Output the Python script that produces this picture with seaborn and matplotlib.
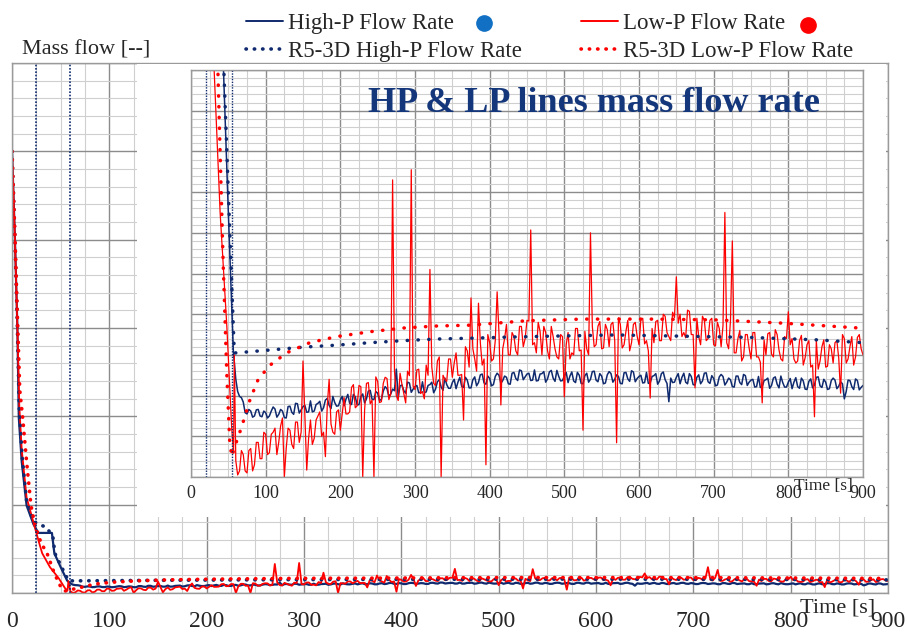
import matplotlib
matplotlib.use("Agg")
import numpy as np
import pandas as pd
import matplotlib.pyplot as plt
from matplotlib.ticker import MultipleLocator
from matplotlib.patches import Rectangle
from matplotlib.lines import Line2D
import seaborn as sns

sns.set_style("white")
plt.rcParams['font.family'] = ['Liberation Serif', 'DejaVu Serif']

NAVY = "#0f2a6e"
RED = "#ff0000"

# ---- data (mass flow in arbitrary units, inset scale 0-10) ----
# start-up transient of each series
hp_start_t = [0, 3, 5.5, 7, 10, 15, 22, 27, 41, 43.5, 50, 56.7]
hp_start_v = [111, 89, 67, 44, 33, 22, 17.3, 15.1, 15.1, 10, 6.5, 3.1]

lp_start_t = [0, 3, 5.5, 7.5, 10, 15, 22, 28, 31, 39, 48, 54.5, 57, 58]
lp_start_v = [111, 89, 67, 47, 36, 24, 17.8, 12.5, 10, 6.5, 3.7, 1.2, 0.6, 3.0]

# measured signals after the transient, every 5 s from 60 s to 900 s
hp_noisy_v = [
    2.40, 1.98, 1.84, 1.55, 1.62, 1.50, 1.66, 1.48, 1.58, 1.50,
    1.72, 1.47, 1.66, 1.46, 1.73, 1.59, 1.81, 1.57, 1.73, 1.59,
    1.87, 1.62, 1.81, 1.62, 1.89, 1.76, 1.98, 1.74, 1.89, 1.75,
    2.03, 1.78, 1.97, 1.78, 2.04, 1.92, 2.13, 1.90, 2.06, 1.91,
    2.22, 1.98, 2.16, 2.65, 2.24, 2.12, 2.33, 2.08, 2.22, 2.07,
    2.34, 2.09, 2.27, 2.07, 2.34, 2.21, 2.43, 2.18, 2.32, 2.17,
    2.45, 2.20, 2.38, 2.19, 2.46, 2.32, 2.53, 2.28, 2.42, 2.27,
    2.55, 2.30, 2.48, 2.29, 2.55, 2.42, 2.63, 2.39, 2.53, 2.37,
    2.63, 2.37, 2.54, 2.33, 2.58, 2.43, 2.62, 2.36, 2.48, 2.32,
    2.58, 2.32, 2.50, 2.29, 2.55, 2.40, 2.60, 2.34, 2.48, 2.31,
    2.59, 2.33, 2.51, 2.30, 2.56, 2.41, 2.61, 2.34, 2.47, 2.31,
    2.57, 2.31, 2.49, 2.28, 2.54, 2.39, 1.85, 2.32, 2.45, 2.29,
    2.55, 2.29, 2.47, 2.26, 2.51, 2.36, 2.56, 2.30, 2.42, 2.26,
    2.52, 2.26, 2.43, 2.22, 2.48, 2.32, 2.52, 2.25, 2.38, 2.21,
    2.47, 2.21, 2.39, 2.18, 2.43, 2.28, 2.48, 2.21, 2.33, 2.17,
    2.44, 2.18, 2.36, 2.15, 2.41, 2.26, 2.46, 2.20, 2.33, 2.17,
    2.43, 2.17, 2.34, 1.92, 2.38, 2.22, 2.41, 2.14, 2.25,
]
lp_noisy_v = [
    0.40, 0.15, 0.55, 0.10, 0.70, 0.30, 0.85, 0.45, 1.05, 0.60,
    1.10, 0.55, 1.25, 0.00, 1.20, 0.80, 1.35, 0.85, 2.85, 0.17,
    1.40, 0.95, 1.50, 1.00, 0.50, 2.40, 1.10, 1.60, 1.15, 1.95,
    1.55, 2.20, 1.70, 2.25, 0.00, 2.30, 1.80, 0.00, 2.35, 1.85,
    2.45, 1.90, 7.30, 2.00, 2.55, 2.05, 2.60, 7.55, 2.15, 2.65,
    2.10, 2.75, 5.10, 2.30, 2.85, 0.00, 2.40, 2.90, 2.45, 3.05,
    2.50, 1.40, 3.10, 4.40, 2.90, 4.27, 2.75, 0.30, 3.30, 2.90,
    4.55, 1.77, 3.40, 3.00, 3.55, 3.10, 3.70, 3.20, 3.85, 6.07,
    3.30, 3.80, 3.00, 3.55, 2.90, 3.45, 2.95, 3.50, 1.97, 3.55,
    3.05, 3.65, 3.10, 1.15, 3.15, 6.00, 3.20, 3.70, 3.15, 3.75,
    3.20, 3.80, 0.84, 3.75, 3.25, 3.85, 3.30, 3.80, 3.25, 3.90,
    3.35, 1.94, 3.30, 3.85, 3.35, 3.95, 3.45, 4.05, 4.92, 4.00,
    3.55, 4.10, 3.50, 2.19, 3.45, 3.95, 3.35, 3.85, 3.25, 3.80,
    3.20, 6.50, 3.15, 5.80, 3.05, 3.60, 2.95, 3.50, 2.90, 3.55,
    2.95, 1.82, 3.00, 3.55, 2.95, 3.50, 2.90, 3.45, 4.06, 3.40,
    2.80, 3.35, 2.75, 3.25, 2.70, 1.48, 2.65, 3.20, 2.70, 3.25,
    2.80, 3.35, 2.06, 3.40, 2.90, 3.45, 2.95, 3.50, 3.00,
]
noisy_t = list(range(60, 901, 5))

# in-between samples, every 5 s from 62.5 s to 897.5 s
hp_mid_v = [
    2.10, 1.95, 1.58, 1.66, 1.47, 1.65, 1.50, 1.62, 1.45, 1.62,
    1.67, 1.54, 1.62, 1.45, 1.74, 1.54, 1.80, 1.65, 1.76, 1.60,
    1.60, 1.78, 1.86, 1.70, 1.93, 1.68, 1.83, 1.75, 1.98, 1.91,
    1.81, 2.03, 1.77, 1.98, 1.82, 2.11, 1.91, 2.10, 1.88, 2.11,
    2.17, 2.04, 2.12, 1.96, 2.26, 2.06, 2.31, 2.16, 2.25, 2.08,
    2.07, 2.25, 2.33, 2.16, 2.39, 2.13, 2.27, 2.18, 2.40, 2.33,
    2.23, 2.45, 2.19, 2.39, 2.24, 2.51, 2.31, 2.48, 2.24, 2.47,
    2.50, 2.37, 2.45, 2.28, 2.57, 2.37, 2.61, 2.46, 2.55, 2.38,
    2.36, 2.53, 2.59, 2.41, 2.62, 2.35, 2.47, 2.37, 2.57, 2.48,
    2.36, 2.57, 2.30, 2.49, 2.33, 2.59, 2.38, 2.54, 2.29, 2.51,
    2.54, 2.40, 2.47, 2.29, 2.57, 2.35, 2.58, 2.42, 2.50, 2.32,
    2.30, 2.47, 2.54, 2.36, 2.58, 2.30, 2.43, 2.33, 2.54, 2.45,
    2.33, 2.54, 2.27, 2.45, 2.29, 2.55, 2.34, 2.49, 2.24, 2.46,
    2.47, 2.33, 2.39, 2.21, 2.48, 2.27, 2.49, 2.33, 2.40, 2.22,
    2.20, 2.37, 2.43, 2.25, 2.46, 2.19, 2.32, 2.21, 2.42, 2.33,
    2.22, 2.43, 2.16, 2.35, 2.19, 2.45, 2.24, 2.40, 2.15, 2.37,
    2.38, 2.23, 2.29, 2.10, 2.37, 2.15, 2.37, 2.20,
]
lp_mid_v = [
    0.05, 0.65, 0.15, 0.65, 0.15, 0.85, 0.45, 1.10, 0.55, 1.05,
    1.20, 0.85, 1.45, 0.70, 1.15, 0.70, 1.35, 1.10, 1.50, 0.95,
    0.80, 1.40, 1.60, 1.10, 1.75, 1.30, 1.05, 1.65, 1.55, 1.55,
    1.60, 2.27, 1.75, 2.22, 1.65, 2.32, 1.89, 2.46, 1.83, 2.30,
    2.42, 2.04, 2.61, 1.88, 2.28, 1.82, 2.49, 2.23, 2.63, 2.05,
    1.92, 2.50, 2.70, 2.25, 2.95, 2.50, 2.35, 2.90, 2.80, 2.50,
    2.52, 3.20, 2.70, 3.15, 2.60, 3.30, 2.90, 3.50, 2.85, 3.35,
    3.52, 3.15, 3.75, 3.00, 3.45, 3.00, 3.70, 3.40, 3.83, 3.25,
    3.05, 3.58, 3.70, 3.10, 3.70, 3.15, 2.90, 3.45, 3.25, 2.90,
    3.00, 3.65, 3.12, 3.58, 3.00, 3.70, 3.25, 3.82, 3.17, 3.62,
    3.75, 3.35, 3.91, 3.17, 3.58, 3.10, 3.75, 3.46, 3.87, 3.27,
    3.10, 3.65, 3.82, 3.35, 4.00, 3.55, 3.35, 3.92, 3.78, 3.45,
    3.42, 4.07, 3.50, 3.90, 3.25, 3.85, 3.40, 3.90, 3.22, 3.65,
    3.72, 3.30, 3.83, 3.05, 3.40, 2.85, 3.50, 3.17, 3.55, 2.95,
    2.82, 3.37, 3.52, 3.02, 3.62, 3.12, 2.85, 3.40, 3.25, 2.90,
    2.85, 3.48, 2.93, 3.35, 2.75, 3.35, 2.85, 3.37, 2.72, 3.15,
    3.30, 2.92, 3.50, 2.80, 3.20, 2.75, 3.43, 3.15,
]
mid_t = [t + 2.5 for t in noisy_t[:-1]]

# R5-3D simulation
r5_hp_t = [0, 3, 5.5, 7.5, 10.5, 15, 22, 30, 35, 42, 44, 51, 58, 60, 106, 150,
           195, 240, 284, 329, 374, 430, 481, 570, 659, 749, 838, 900]
r5_hp_v = [111, 89, 67, 46, 34, 23, 18, 17, 16.6, 14.2, 10, 6.5, 3.05, 3.05, 3.12, 3.19,
           3.24, 3.3, 3.35, 3.39, 3.41, 3.44, 3.46, 3.49, 3.46, 3.43, 3.37, 3.3]
r5_lp_t = [0, 3, 5.5, 8, 11, 15, 19.5, 23.6, 30, 36, 43, 48, 52, 55, 57, 68, 79, 90,
           106, 128, 159, 195, 240, 284, 329, 374, 450, 525, 615, 704, 793, 896]
r5_lp_v = [111, 90, 70, 51, 44, 33, 22, 17, 12.5, 10, 5.3, 2.5, 0.8, 0.5, 0.66, 1.24, 1.9, 2.4,
           2.75, 3.05, 3.3, 3.45, 3.57, 3.66, 3.71, 3.73, 3.84, 3.88, 3.88, 3.86, 3.78, 3.66]

# vertical reference lines (valve events)
main_events = [25, 60]
inset_events = [20, 54.5]

MAIN_UNIT = 22.2  # one main gridline step in data units

hp = pd.DataFrame({"time": hp_start_t + noisy_t + mid_t,
                   "flow": hp_start_v + hp_noisy_v + hp_mid_v})
lp = pd.DataFrame({"time": lp_start_t + noisy_t + mid_t,
                   "flow": lp_start_v + lp_noisy_v + lp_mid_v})
r5hp = pd.DataFrame({"time": r5_hp_t, "flow": r5_hp_v})
r5lp = pd.DataFrame({"time": r5_lp_t, "flow": r5_lp_v})

fig = plt.figure(figsize=(9.07, 6.34), dpi=100)
ax = fig.add_axes([12 / 907, 1 - 593 / 634, 876 / 907, 530 / 634])
axi = fig.add_axes([191 / 907, 1 - 477 / 634, 672 / 907, 407 / 634])
ax.set_zorder(0)
axi.set_zorder(2)


def draw_series(a, lw_hp, lw_lp, lw_dot, dot_gap):
    dots = (0, (0.1, dot_gap))
    sns.lineplot(data=hp, x="time", y="flow", ax=a, color=NAVY, lw=lw_hp, estimator=None)
    sns.lineplot(data=lp, x="time", y="flow", ax=a, color=RED, lw=lw_lp, estimator=None)
    sns.lineplot(data=r5hp, x="time", y="flow", ax=a, color=NAVY, lw=lw_dot, estimator=None,
                 linestyle=dots, dash_capstyle="round")
    sns.lineplot(data=r5lp, x="time", y="flow", ax=a, color=RED, lw=lw_dot, estimator=None,
                 linestyle=dots, dash_capstyle="round")


def style_grid(a, ymaj, ymin):
    a.xaxis.set_major_locator(MultipleLocator(100))
    a.xaxis.set_minor_locator(MultipleLocator(25))
    a.yaxis.set_major_locator(MultipleLocator(ymaj))
    a.yaxis.set_minor_locator(MultipleLocator(ymin))
    a.grid(which="major", color="#8c8c8c", lw=1.0)
    a.grid(which="minor", color="#cfcfcf", lw=0.8)
    a.set_axisbelow(True)
    for s in a.spines.values():
        s.set_color("#9a9a9a")
        s.set_linewidth(1.0)
    a.set_xlabel("")
    a.set_ylabel("")
    a.set_yticklabels([])


# ---- main axes ----
draw_series(ax, 1.6, 1.3, 2.6, 2.2)
for t in main_events:
    ax.axvline(t, color=NAVY, lw=1.2, ls=(0, (1, 1)))
ax.set_xlim(0, 900)
ax.set_ylim(0, 6 * MAIN_UNIT)
style_grid(ax, MAIN_UNIT, MAIN_UNIT / 5)
ax.tick_params(axis="x", which="major", labelsize=17, length=6, color="#8c8c8c", pad=7)
ax.tick_params(axis="y", which="major", length=5, color="#8c8c8c")
ax.tick_params(which="minor", length=0)
ax.text(0.985, -0.028, "Time [s]", transform=ax.transAxes, ha="right", va="center", fontsize=16)

# white backdrop behind the inset
fig.patches.append(Rectangle((137 / 907, 1 - 517 / 634), 749 / 907, 453 / 634,
                             transform=fig.transFigure, facecolor="white", edgecolor="none",
                             zorder=1))

# ---- inset axes ----
draw_series(axi, 1.1, 0.9, 2.5, 3.0)
for t in inset_events:
    axi.axvline(t, color=NAVY, lw=1.0, ls=(0, (1, 1)))
axi.set_xlim(0, 900)
axi.set_ylim(0, 10)
style_grid(axi, 1, 0.2)
axi.tick_params(axis="x", which="major", labelsize=13, length=0, pad=6)
axi.tick_params(axis="y", which="both", length=0)
axi.tick_params(axis="x", which="minor", length=0)
axi.text(0.985, -0.022, "Time [s]", transform=axi.transAxes, ha="right", va="center", fontsize=12.5)
axi.text(0.6, 0.918, "HP & LP lines mass flow rate", transform=axi.transAxes, ha="center",
         va="center", fontsize=26, fontweight="bold", color="#14367a")

# ---- legend and labels ----
h1 = [Line2D([], [], color=NAVY, lw=1.4),
      Line2D([], [], color=NAVY, lw=2.6, ls=(0, (0.1, 2.2)), dash_capstyle="round")]
h2 = [Line2D([], [], color=RED, lw=1.4),
      Line2D([], [], color=RED, lw=2.6, ls=(0, (0.1, 2.2)), dash_capstyle="round")]
kw = dict(frameon=False, fontsize=16.5, handlelength=1.6, handletextpad=0.25,
          labelspacing=0.3, borderpad=0, borderaxespad=0, loc="upper left")
fig.legend(h1, ["High-P Flow Rate", "R5-3D High-P Flow Rate"],
           bbox_to_anchor=(246 / 907, 1 - 13 / 634), **kw)
fig.legend(h2, ["Low-P Flow Rate", "R5-3D Low-P Flow Rate"],
           bbox_to_anchor=(581 / 907, 1 - 13 / 634), **kw)
fig.add_artist(Line2D([484 / 907], [1 - 23 / 634], marker="o", ms=11, color="#1170c4",
                      transform=fig.transFigure))
fig.add_artist(Line2D([808 / 907], [1 - 25 / 634], marker="o", ms=11, color=RED,
                      transform=fig.transFigure))
fig.text(22 / 907, 1 - 50 / 634, "Mass flow [--]", ha="left", va="center", fontsize=16)

fig.savefig("out.png", dpi=100)
